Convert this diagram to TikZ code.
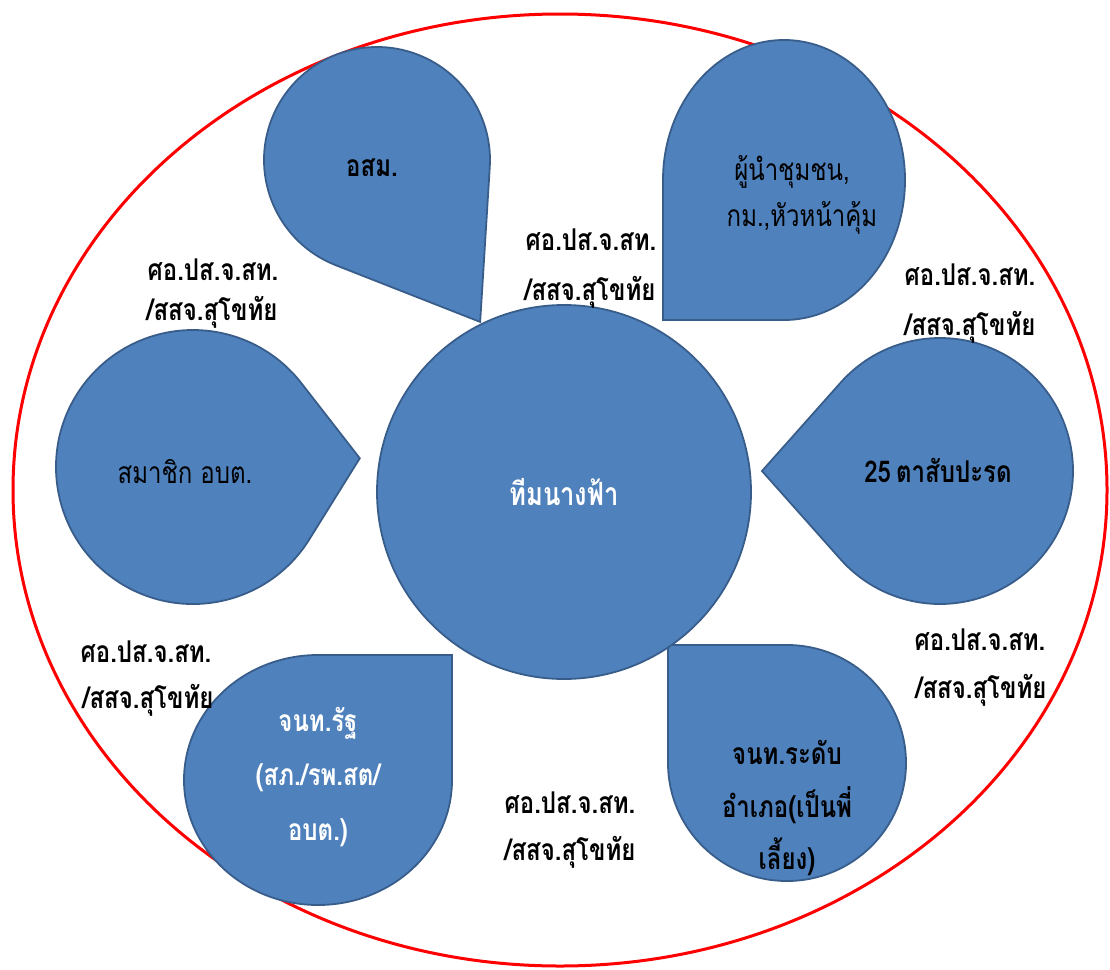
\documentclass[tikz,border=0pt]{standalone}
\usepackage{fontspec}
\newfontfamily\thai[Script=Thai,FakeStretch=0.8]{Loma}
\definecolor{shapeblue}{HTML}{4F81BD}
\definecolor{shapeedge}{HTML}{385D8A}
\tikzset{
  tear/.style={fill=shapeblue,draw=shapeedge,line width=1.8pt},
  lbl/.style={font=\thai\fontsize{30}{34}\selectfont\bfseries,text=black,inner sep=0pt},
  intxt/.style={font=\thai\fontsize{30}{34}\selectfont\bfseries,text=black,inner sep=0pt},
  inreg/.style={font=\thai\fontsize{30}{34}\selectfont,text=black,inner sep=0pt},
  inwhite/.style={font=\thai\fontsize{30}{34}\selectfont\bfseries,text=white,inner sep=0pt},
}
% cx cy r tipangle tipdist
\newcommand\mytear[5]{%
  \pgfmathsetmacro\tphi{acos(#3/#5)}%
  \pgfmathsetmacro\ta{#4+\tphi}%
  \pgfmathsetmacro\tb{#4-\tphi}%
  \pgfmathsetmacro\tbb{#4-\tphi+360}%
  \path[tear] ([shift={(\tb:#3)}]#1,#2) -- ([shift={(#4:#5)}]#1,#2) -- ([shift={(\ta:#3)}]#1,#2)
    arc[start angle=\ta, end angle=\tbb, radius=#3] -- cycle;}
\begin{document}
\begin{tikzpicture}[x=1pt,y=-1pt]
\useasboundingbox (0,0) rectangle (1110,969);
% outer red ellipse
\draw[red,line width=3pt] (560,490) ellipse [x radius=547, y radius=476];
% teardrops
\mytear{377}{160}{113}{57.5}{192}
\mytear{940}{471}{133}{180}{178}
\mytear{193}{467}{137}{-3}{167}
% axis-aligned teardrops
\path[tear] (663,180) arc[start angle=180,end angle=450,x radius=121,y radius=140] -- (663,320) -- cycle;
\path[tear] (668,763) arc[start angle=180,end angle=-90,x radius=119,y radius=118] -- (668,645) -- cycle;
\path[tear] (452,780) arc[start angle=0,end angle=270,x radius=134,y radius=125] -- (452,655) -- cycle;
% centre
\node[circle,fill=shapeblue,draw=shapeedge,line width=1.8pt,minimum size=374pt,inner sep=0pt] (team) at (564,492) {};
\node[inwhite,font=\thai\fontsize{32}{36}\selectfont\bfseries] (teamt) at (564,492) {ทีมนางฟ้า};
% texts in shapes
\node[intxt] (osm) at (372,168) {อสม.};
\node[inreg] (lead1) at (792,172) {ผู้นำชุมชน,};
\node[inreg] (lead2) at (802,218) {กม.,หัวหน้าคุ้ม};
\node[inreg] (member) at (185,472) {สมาชิก อบต.};
\node[intxt] (eye) at (938,470) {25\,ตาสับปะรด};
\node[inwhite] (gov1) at (318,723) {จนท.รัฐ};
\node[inwhite] (gov2) at (318,778) {(สภ./รพ.สต/};
\node[inwhite] (gov3) at (318,833) {อบต.)};
\node[intxt] (dist1) at (787,752) {จนท.ระดับ};
\node[intxt] (dist2) at (787,805) {อำเภอ(เป็นพี่};
\node[intxt] (dist3) at (787,857) {เลี้ยง)};
% labels
\node[lbl] (la1) at (591,240) {ศอ.ปส.จ.สท.};
\node[lbl] (la2) at (590,292) {/สสจ.สุโขทัย};
\node[lbl] (lb1) at (213,270) {ศอ.ปส.จ.สท.};
\node[lbl] (lb2) at (212,312) {/สสจ.สุโขทัย};
\node[lbl] (lc1) at (970,275) {ศอ.ปส.จ.สท.};
\node[lbl] (lc2) at (970,327) {/สสจ.สุโขทัย};
\node[lbl] (ld1) at (146,652) {ศอ.ปส.จ.สท.};
\node[lbl] (ld2) at (148,700) {/สสจ.สุโขทัย};
\node[lbl] (le1) at (980,640) {ศอ.ปส.จ.สท.};
\node[lbl] (le2) at (981,690) {/สสจ.สุโขทัย};
\node[lbl] (lf1) at (570,803) {ศอ.ปส.จ.สท.};
\node[lbl] (lf2) at (570,852) {/สสจ.สุโขทัย};
\end{tikzpicture}
\end{document}
